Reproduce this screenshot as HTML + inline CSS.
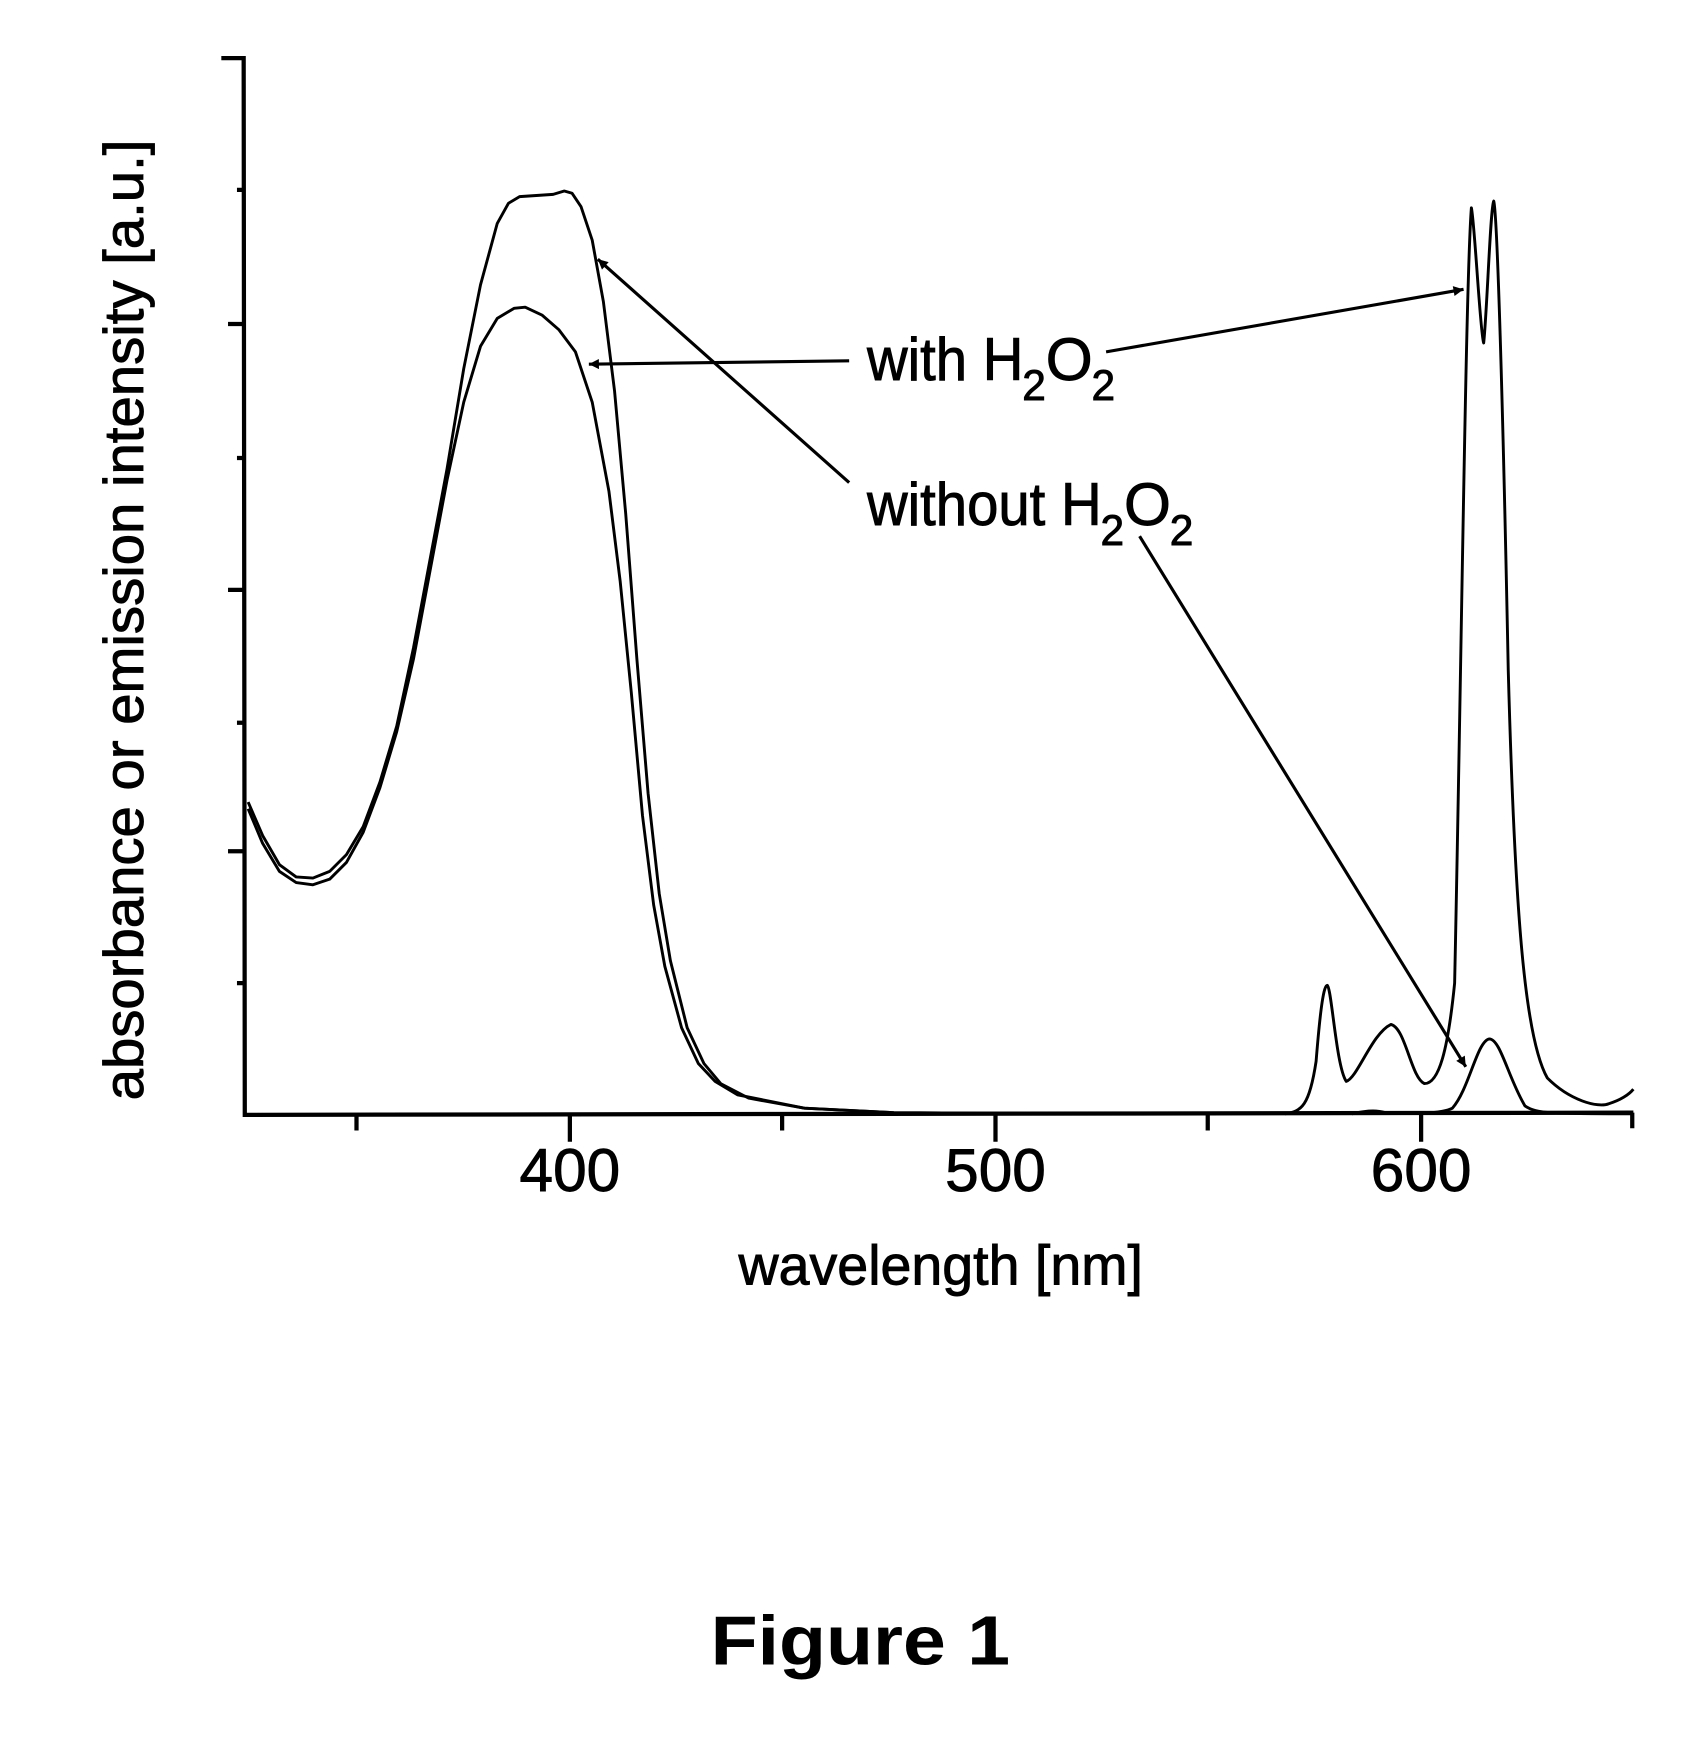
<!DOCTYPE html>
<html><head><meta charset="utf-8"><style>
html,body{margin:0;padding:0;background:#fff;}
svg{display:block;}
text{font-family:"Liberation Sans",Arial,sans-serif;fill:#000;}
</style></head><body>
<svg width="1705" height="1755" viewBox="0 0 1526 1571" xmlns="http://www.w3.org/2000/svg">
<defs>
<marker id="ah" viewBox="0 0 10 10" refX="10" refY="5" markerWidth="18" markerHeight="9" orient="auto" markerUnits="userSpaceOnUse">
<path d="M0,0 L10,5 L0,10 z" fill="#000"/></marker>
</defs>
<g stroke="#000" fill="none" stroke-width="3.8">
<path d="M198,52 L218,52 L219,998 L1462,996"/>
<path d="M212,170 L219,170 M204,290 L219,290 M212,410 L219,410 M204,528 L219,528 M212,647 L219,647 M204,762 L219,762 M212,880 L219,880"/>
<path d="M319,998 L319,1012 M510,998 L510,1022 M700,998 L700,1012 M891,998 L891,1022 M1081,998 L1081,1012 M1272,998 L1272,1022 M1461,996 L1461,1010"/>
</g>
<g stroke="#000" fill="none" stroke-width="2.6" stroke-linejoin="round">
<polyline points="222,718 235,748 250,774 265,785 280,786 295,780 310,765 325,740 340,700 355,650 370,580 385,500 400,420 415,330 430,255 445,200 455,182 465,176 480,175 495,174 505,171 512,173 520,185 530,215 540,270 550,350 560,460 570,590 580,710 590,800 600,860 615,920 630,952 645,970 670,983 720,992 800,996 1000,997"/>
<polyline points="222,724 235,755 250,780 265,790 280,792 295,787 310,772 325,745 340,705 355,655 370,590 385,510 400,430 415,360 430,310 445,285 460,276 470,275 485,282 500,295 515,315 530,360 545,440 555,520 565,620 575,730 585,810 595,865 610,920 625,952 640,968 660,980 720,992 800,996 1000,997"/>
<path d="M1150,997 C1165,995 1172,990 1178,950 C1182,900 1185,882 1188,882 C1192,885 1196,955 1205,968 C1215,965 1228,925 1245,917 C1258,920 1263,965 1275,970 C1288,970 1296,940 1302,880 C1308,600 1312,250 1317,186 C1320,200 1325,300 1328,307 C1331,280 1334,185 1337,180 C1340,190 1345,350 1350,600 C1356,820 1365,930 1385,965 C1405,985 1430,992 1440,988 C1450,985 1458,980 1462,975"/>
<path d="M1210,997 C1220,995 1230,993 1240,996 C1270,997 1290,997 1300,992 C1315,975 1322,932 1333,930 C1343,930 1350,965 1365,990 C1375,997 1390,997 1460,997"/>
</g>
<g stroke="#000" stroke-width="2.8" fill="none">
<line x1="760" y1="323" x2="527" y2="326" marker-end="url(#ah)"/>
<line x1="990" y1="315" x2="1310" y2="259" marker-end="url(#ah)"/>
<line x1="760" y1="432" x2="535" y2="232" marker-end="url(#ah)"/>
<line x1="1020" y1="480" x2="1312" y2="955" marker-end="url(#ah)"/>
</g>
<g stroke="#000" stroke-width="0.8">
<text x="776" y="340" font-size="54" textLength="140" lengthAdjust="spacingAndGlyphs">with H</text>
<text x="915" y="358" font-size="38">2</text>
<text x="936" y="340" font-size="54">O</text>
<text x="977" y="358" font-size="38">2</text>
<text x="776" y="470" font-size="54" textLength="210" lengthAdjust="spacingAndGlyphs">without H</text>
<text x="985" y="488" font-size="38">2</text>
<text x="1006" y="470" font-size="54">O</text>
<text x="1047" y="488" font-size="38">2</text>
<text x="510" y="1066" font-size="54" text-anchor="middle">400</text>
<text x="891" y="1066" font-size="54" text-anchor="middle">500</text>
<text x="1272" y="1066" font-size="54" text-anchor="middle">600</text>
<text x="842" y="1150" font-size="50" text-anchor="middle" textLength="362" lengthAdjust="spacingAndGlyphs">wavelength [nm]</text>
<text transform="translate(128,555) rotate(-90)" font-size="50" text-anchor="middle" textLength="860" lengthAdjust="spacingAndGlyphs">absorbance or emission intensity [a.u.]</text>
</g>
<text x="770" y="1490" font-size="62" font-weight="bold" text-anchor="middle" textLength="268" lengthAdjust="spacingAndGlyphs">Figure  1</text>
</svg>
</body></html>
